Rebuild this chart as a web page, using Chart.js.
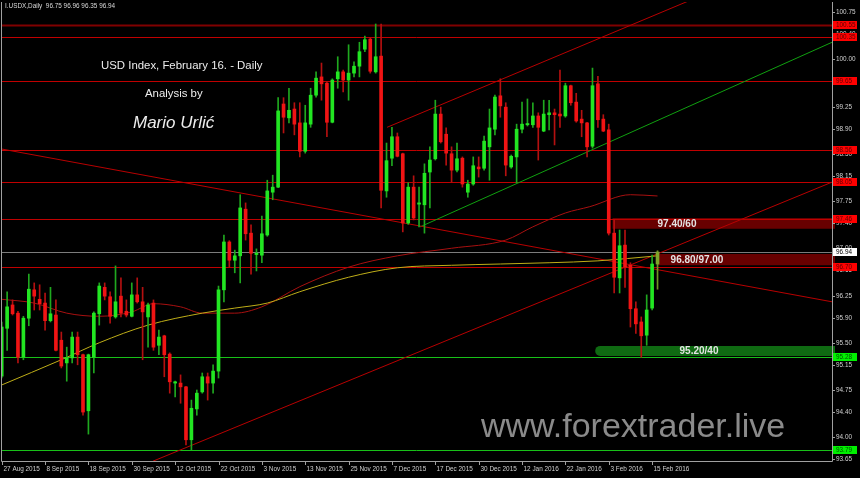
<!DOCTYPE html>
<html>
<head>
<meta charset="utf-8">
<script src="https://cdn.jsdelivr.net/npm/chart.js@4.4.1/dist/chart.umd.min.js"></script>
<style>
  html, body { margin: 0; padding: 0; background: #000; }
  #wrap { position: relative; width: 860px; height: 478px; }
</style>
</head>
<body>
<div id="wrap"><canvas id="chart"></canvas></div>
<script>
// daily bars, 27 Aug 2015 .. 16 Feb 2016 (bar index = position on the time axis)
const OPEN = [94.97, 95.73, 96.10, 95.97, 95.27, 95.89, 96.34, 96.19, 96.13, 95.85,
  95.94, 95.54, 95.18, 95.26, 95.59, 95.31, 94.42, 95.27, 95.96, 96.38,
  96.23, 95.91, 96.24, 96.00, 95.92, 96.26, 96.15, 95.91, 96.13, 95.46,
  95.61, 95.32, 94.86, 94.86, 94.80, 93.96, 94.45, 94.72, 94.96, 94.86,
  95.05, 96.34, 97.10, 96.81, 96.88, 97.62, 97.24, 96.90, 96.89, 97.21,
  97.89, 97.97, 99.29, 99.07, 99.21, 98.99, 98.54, 98.97, 99.43, 99.72,
  99.62, 99.00, 99.69, 99.80, 99.67, 99.78, 99.89, 100.16, 100.32, 99.80,
  100.05, 97.91, 98.43, 98.77, 98.50, 97.40, 97.97, 97.70, 97.69, 98.21,
  98.42, 99.13, 98.81, 98.50, 98.24, 98.43, 97.89, 98.02, 98.29, 98.27,
  98.61, 98.89, 99.42, 99.24, 98.29, 98.45, 98.89, 98.96, 98.96, 99.10,
  98.86, 99.12, 99.15, 99.13, 99.10, 99.58, 99.32, 99.05, 98.99, 98.62,
  99.61, 99.05, 98.88, 97.24, 96.53, 97.05, 96.73, 96.04, 95.83, 95.62,
  96.05, 96.75]
const HIGH = [95.83, 96.31, 96.18, 96.00, 95.92, 96.59, 96.45, 96.42, 96.29, 96.38,
  96.18, 95.67, 95.43, 95.67, 95.67, 95.32, 95.32, 95.99, 96.45, 96.45,
  96.31, 96.72, 96.53, 96.18, 96.45, 96.53, 96.38, 96.13, 96.18, 95.70,
  95.62, 95.34, 94.89, 94.99, 94.81, 94.59, 94.75, 95.02, 95.02, 95.15,
  96.40, 97.21, 97.12, 96.97, 97.85, 97.72, 97.37, 96.99, 97.51, 98.08,
  98.16, 99.39, 99.39, 99.54, 99.31, 99.31, 99.27, 99.54, 99.80, 99.94,
  99.64, 99.69, 100.04, 99.83, 100.23, 99.96, 100.27, 100.37, 100.34, 100.56,
  100.56, 98.67, 98.92, 98.83, 98.51, 98.04, 98.15, 97.97, 98.34, 98.61,
  99.35, 99.24, 98.91, 98.61, 98.67, 98.45, 98.08, 98.45, 98.45, 98.78,
  99.21, 99.43, 99.69, 99.31, 98.48, 98.97, 99.32, 99.37, 99.31, 99.15,
  99.35, 99.35, 99.21, 99.83, 99.62, 99.59, 99.46, 99.19, 99.00, 99.86,
  99.73, 99.12, 98.97, 97.45, 97.29, 97.29, 96.77, 96.15, 95.91, 96.26,
  96.89, 96.96]
const LOW = [94.94, 95.38, 95.94, 95.18, 95.23, 95.77, 96.02, 96.02, 95.70, 95.83,
  95.37, 95.10, 94.89, 95.18, 95.15, 94.35, 94.05, 95.02, 95.78, 96.18,
  95.81, 95.89, 95.91, 95.91, 95.91, 96.13, 95.23, 95.43, 95.38, 95.31,
  94.96, 94.70, 94.64, 94.54, 93.88, 93.80, 94.35, 94.70, 94.59, 94.70,
  94.94, 96.15, 96.70, 96.61, 96.45, 97.13, 96.59, 96.64, 96.77, 97.19,
  97.77, 97.96, 98.83, 98.99, 98.80, 98.45, 98.51, 98.92, 99.40, 99.35,
  98.77, 98.99, 99.54, 99.48, 99.35, 99.72, 99.72, 100.12, 99.78, 99.78,
  97.64, 97.81, 98.31, 98.45, 97.26, 97.38, 97.45, 97.34, 97.24, 97.64,
  98.40, 98.67, 98.32, 98.05, 98.21, 97.97, 97.81, 98.00, 98.13, 98.24,
  98.08, 98.80, 99.08, 98.15, 98.27, 98.04, 98.83, 98.94, 98.92, 98.40,
  98.85, 98.88, 98.64, 98.92, 99.08, 99.27, 99.00, 98.77, 98.45, 98.59,
  98.92, 98.85, 97.21, 96.29, 96.29, 96.38, 95.75, 95.65, 95.27, 95.46,
  96.02, 96.35]
const CLOSE = [95.75, 96.07, 95.96, 95.27, 95.89, 96.35, 96.24, 96.12, 95.85, 95.96,
  95.38, 95.13, 95.26, 95.59, 95.31, 94.40, 95.31, 95.97, 96.40, 96.24,
  95.92, 96.15, 95.97, 95.94, 96.26, 96.15, 95.99, 96.10, 95.43, 95.59,
  95.31, 94.88, 94.88, 94.80, 93.96, 94.46, 94.70, 94.96, 94.86, 95.05,
  96.34, 97.10, 96.81, 96.88, 97.64, 97.23, 96.92, 96.92, 97.23, 97.91,
  97.97, 99.18, 99.08, 99.19, 98.97, 98.54, 98.99, 99.43, 99.70, 99.61,
  99.00, 99.67, 99.80, 99.67, 99.78, 99.89, 100.12, 100.31, 99.81, 100.04,
  97.92, 98.39, 98.77, 98.46, 97.40, 97.97, 97.48, 97.72, 98.19, 98.40,
  99.13, 98.69, 98.51, 98.24, 98.42, 98.02, 98.02, 98.31, 98.26, 98.70,
  98.91, 99.40, 99.26, 98.32, 98.46, 98.89, 98.97, 98.98, 99.10, 98.92,
  99.13, 99.15, 99.12, 99.10, 99.58, 99.31, 99.02, 98.99, 98.61, 99.58,
  99.04, 98.86, 97.24, 96.54, 97.04, 96.70, 96.04, 95.80, 95.61, 96.02,
  96.75, 96.94]

// time axis labels (every 8th bar)
const DATE_LABELS = ["27 Aug 2015", "8 Sep 2015", "18 Sep 2015", "30 Sep 2015", "12 Oct 2015",
  "22 Oct 2015", "3 Nov 2015", "13 Nov 2015", "25 Nov 2015", "7 Dec 2015", "17 Dec 2015",
  "30 Dec 2015", "12 Jan 2016", "22 Jan 2016", "3 Feb 2016", "15 Feb 2016"]
const DATE_BARS = [0, 8, 16, 24, 32, 40, 48, 56, 64, 72, 80, 88, 96, 104, 112, 120]
const PRICE_TICKS = [100.75, 100.40, 100.00, 99.65, 99.25, 98.90, 98.50, 98.15, 97.75, 97.40,
  97.00, 96.65, 96.25, 95.90, 95.50, 95.15, 94.75, 94.40, 94.00, 93.65]

// moving averages
const SLOW_MA_BARS = [0, 11, 18, 27, 37, 43, 49, 55, 64, 73, 83, 92, 101, 110, 121]
const SLOW_MA = [94.83, 95.23, 95.50, 95.78, 95.97, 96.05, 96.13, 96.31, 96.54, 96.69, 96.73, 96.75, 96.77, 96.80, 96.88]
const FAST_MA_BARS = [0, 6, 12, 18, 24, 28, 33, 37, 43, 48, 55, 64, 73, 83, 93, 98, 104, 108.5, 116, 121]
const FAST_MA = [96.19, 96.13, 95.97, 95.92, 95.99, 96.12, 96.07, 95.97, 95.97, 96.07, 96.39, 96.70, 96.88, 97.00, 97.13, 97.34, 97.56, 97.66, 97.85, 97.83]

// horizontal levels
const RED_LEVELS = [100.55, 100.35, 99.65, 98.56, 98.05, 97.46, 96.70]
const GREEN_LEVELS = [95.28, 93.79]
const LAST_PRICE = 96.94

// trend lines: [fromBar, fromPrice, toBar, toPrice]
const RED_TRENDS = [
  [-0.3, 98.58, 153.2, 96.15],
  [27.9, 93.62, 153.2, 98.05],
  [71.1, 98.92, 153.2, 101.88],
]
const GREEN_TRENDS = [[77.2, 97.34, 153.2, 100.27]]

// target zones
const ZONE_LABELS = ["97.40/60", "96.80/97.00", "95.20/40"]
const ZONE_TOP = [97.48, 96.91, 95.45]
const ZONE_BOTTOM = [97.31, 96.73, 95.29]
const ZONE_FROM_BAR = [112.7, 120.9, 109.5]

const SYMBOL = "I.USDX,Daily"
const TITLE = "USD Index, February 16. - Daily"
const SUBTITLE = "Analysis by"
const AUTHOR = "Mario Urlić"
const WATERMARK = "www.forextrader.live"

const X_MIN = -0.13
const X_MAX = 153.19
const Y_MIN = 93.623
const Y_MAX = 100.909

const SMALL_FONT = "6.4px 'Liberation Sans', Arial, sans-serif"
const TEXT_FONT = "11.4px 'Liberation Sans', Arial, sans-serif"

const lastIdx = OPEN.length - 1
const isUp = (i) => CLOSE[i] >= OPEN[i]
const bodyColors = OPEN.map((o, i) => (i === lastIdx ? "#7da52a" : isUp(i) ? "#22e622" : "#f01414"))
const wickColors = OPEN.map((o, i) => (i === lastIdx ? "#6f9524" : isUp(i) ? "#1fa81f" : "#b41010"))

const lineSet = (pts, color, order) => ({
  type: "line",
  data: pts,
  borderColor: color,
  borderWidth: 1,
  pointRadius: 0,
  tension: 0,
  order: order,
})

const trendSets = [
  ...RED_TRENDS.map((t) => lineSet([{ x: t[0], y: t[1] }, { x: t[2], y: t[3] }], "#b80000", 5)),
  ...GREEN_TRENDS.map((t) => lineSet([{ x: t[0], y: t[1] }, { x: t[2], y: t[3] }], "#10a010", 5)),
]

const maSets = [
  Object.assign(lineSet(SLOW_MA_BARS.map((b, k) => ({ x: b, y: SLOW_MA[k] })), "#bfae18", 3), { cubicInterpolationMode: "monotone" }),
  Object.assign(lineSet(FAST_MA_BARS.map((b, k) => ({ x: b, y: FAST_MA[k] })), "#a81010", 3), { cubicInterpolationMode: "monotone" }),
]

const overlay = {
  id: "overlay",
  beforeDatasetsDraw(chart) {
    const { ctx, chartArea: a, scales } = chart
    const x = scales.x
    const y = scales.y
    ctx.save()

    // zones
    ZONE_LABELS.forEach((lbl, k) => {
      const x0 = x.getPixelForValue(ZONE_FROM_BAR[k])
      const y0 = y.getPixelForValue(ZONE_TOP[k])
      const y1 = y.getPixelForValue(ZONE_BOTTOM[k])
      ctx.fillStyle = k === 2 ? "#0f6a12" : "#680000"
      ctx.beginPath()
      if (k === 2 && ctx.roundRect) {
        ctx.roundRect(x0, y0, a.right + 3 - x0, y1 - y0, [5, 0, 0, 5])
      } else {
        ctx.rect(x0, y0, a.right + 3 - x0, y1 - y0)
      }
      ctx.fill()
    })

    // horizontal levels
    const hline = (v, color, w) => {
      const py = Math.round(y.getPixelForValue(v)) + 0.5
      ctx.strokeStyle = color
      ctx.lineWidth = w
      ctx.beginPath()
      ctx.moveTo(a.left, py)
      ctx.lineTo(a.right, py)
      ctx.stroke()
    }
    RED_LEVELS.forEach((v, k) => hline(v, k === 0 ? "#800000" : "#c00000", k === 0 ? 2 : 1))
    GREEN_LEVELS.forEach((v) => hline(v, "#18c018", 1))
    hline(LAST_PRICE, "#7c7c7c", 1)
    ctx.restore()
  },
  afterDraw(chart) {
    const { ctx, chartArea: a, scales } = chart
    const x = scales.x
    const y = scales.y
    ctx.save()

    // frame
    ctx.strokeStyle = "#a0a0a0"
    ctx.lineWidth = 1
    ctx.beginPath()
    ctx.moveTo(a.left + 0.5, a.top)
    ctx.lineTo(a.left + 0.5, a.bottom + 0.5)
    ctx.lineTo(a.right + 0.5, a.bottom + 0.5)
    ctx.lineTo(a.right + 0.5, a.top)
    ctx.stroke()

    // price axis
    ctx.font = SMALL_FONT
    ctx.textBaseline = "middle"
    ctx.textAlign = "left"
    PRICE_TICKS.forEach((v) => {
      const py = Math.round(y.getPixelForValue(v)) + 0.5
      ctx.strokeStyle = "#a0a0a0"
      ctx.beginPath()
      ctx.moveTo(a.right, py)
      ctx.lineTo(a.right + 3, py)
      ctx.stroke()
      ctx.fillStyle = "#d0d0d0"
      ctx.fillText(v.toFixed(2), a.right + 4, py)
    })

    const tag = (v, bg, fg) => {
      const py = Math.round(y.getPixelForValue(v))
      ctx.fillStyle = bg
      ctx.fillRect(a.right + 1, py - 4, 24, 8)
      ctx.fillStyle = fg
      ctx.fillText(v.toFixed(2), a.right + 4, py + 0.5)
    }
    RED_LEVELS.forEach((v) => tag(v, "#ff0000", "#5c0000"))
    GREEN_LEVELS.forEach((v) => tag(v, "#00f000", "#005000"))
    tag(LAST_PRICE, "#ffffff", "#000000")

    // time axis
    ctx.textBaseline = "middle"
    DATE_LABELS.forEach((lbl, k) => {
      const px = Math.round(x.getPixelForValue(DATE_BARS[k])) + 0.5
      ctx.strokeStyle = "#a0a0a0"
      ctx.beginPath()
      ctx.moveTo(px, a.bottom)
      ctx.lineTo(px, a.bottom + 4)
      ctx.stroke()
      ctx.fillStyle = "#d0d0d0"
      ctx.fillText(lbl, px + 1, a.bottom + 8.5)
    })

    // zone captions
    ctx.font = "bold 10px 'Liberation Sans', Arial, sans-serif"
    ctx.textAlign = "center"
    ctx.fillStyle = "#e4e4e4"
    const capX = [677, 697, 699]
    ZONE_LABELS.forEach((lbl, k) => {
      const cy = y.getPixelForValue((ZONE_TOP[k] + ZONE_BOTTOM[k]) / 2)
      ctx.fillText(lbl, capX[k], cy + 0.5)
    })

    // header and titles
    ctx.textAlign = "left"
    ctx.font = SMALL_FONT
    ctx.fillStyle = "#d8d8d8"
    const last = [OPEN[lastIdx], HIGH[lastIdx], LOW[lastIdx], CLOSE[lastIdx]].map((v) => v.toFixed(2)).join(" ")
    ctx.fillText(SYMBOL + "  " + last, 5, 6)

    ctx.textBaseline = "alphabetic"
    ctx.fillStyle = "#ececec"
    ctx.font = TEXT_FONT
    ctx.fillText(TITLE, 101, 69)
    ctx.fillText(SUBTITLE, 145, 97)
    ctx.font = "italic 17px 'Liberation Sans', Arial, sans-serif"
    ctx.fillText(AUTHOR, 133, 128)

    ctx.font = "34px 'Liberation Sans', Arial, sans-serif"
    ctx.fillStyle = "#8a8a8a"
    ctx.fillText(WATERMARK, 481, 437)
    ctx.restore()
  },
}

new Chart(document.getElementById("chart"), {
  type: "bar",
  data: {
    datasets: [
      ...trendSets,
      ...maSets,
      {
        label: "wicks",
        data: HIGH.map((h, i) => ({ x: i, y: [LOW[i], h] })),
        backgroundColor: wickColors,
        barThickness: 1,
        grouped: false,
        order: 2,
      },
      {
        label: "bodies",
        data: OPEN.map((o, i) => ({ x: i, y: [o, CLOSE[i]] })),
        backgroundColor: bodyColors,
        barThickness: 3,
        minBarLength: 1,
        grouped: false,
        order: 1,
      },
    ],
  },
  options: {
    responsive: true,
    maintainAspectRatio: false,
    animation: false,
    events: [],
    layout: { padding: { left: 1, top: 2, right: 28, bottom: 17 } },
    plugins: { legend: { display: false }, tooltip: { enabled: false } },
    scales: {
      x: { type: "linear", display: false, min: X_MIN, max: X_MAX, offset: false },
      y: { type: "linear", display: false, min: Y_MIN, max: Y_MAX, beginAtZero: false },
    },
  },
  plugins: [overlay],
})
</script>
</body>
</html>
